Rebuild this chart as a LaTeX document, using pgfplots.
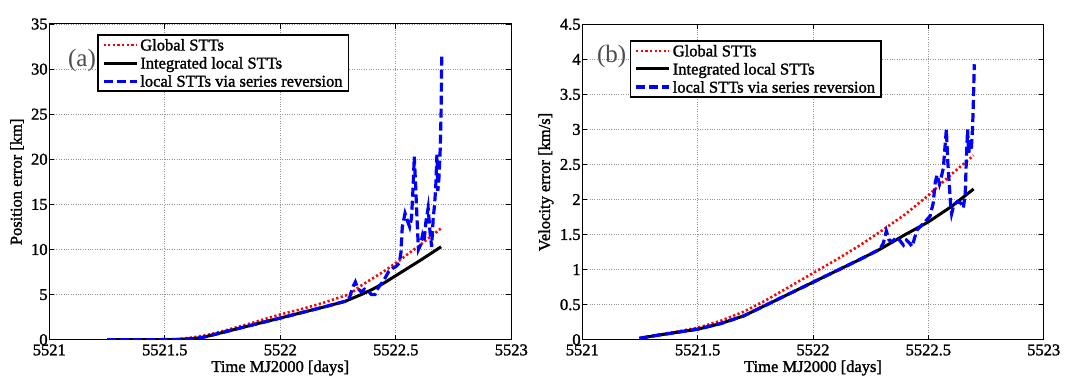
\documentclass[border=0pt]{standalone}
\usepackage{fontspec}
\setmainfont{Liberation Serif}[FakeBold=1.5]
\newfontfamily\thinfont{Liberation Serif}
\usepackage{pgfplots}
\pgfplotsset{compat=1.18}

\pgfplotsset{
  matstyle/.style={
    scale only axis,
    xmin=5521, xmax=5523,
    xtick={5521,5521.5,5522,5522.5,5523},
    xticklabels={5521,5521.5,5522,5522.5,5523},
    grid=major,
    major grid style={dotted, gray!85, line width=0.8pt},
    axis line style={line width=1pt},
    every tick/.style={black, line width=0.8pt},
    major tick length=5pt,
    tick align=inside,
    ticklabel style={font=\fontsize{16.5}{18}\selectfont, inner sep=1.5pt},
    xticklabel style={yshift=-3pt},
    label style={font=\fontsize{16.5}{18}\selectfont},
    legend cell align=left,
    legend image code/.code={\draw[#1] (0pt,0pt) -- (33pt,0pt);},
    legend style={
      draw=black, line width=1.5pt, fill=white,
      font=\fontsize{16.5}{18}\selectfont,
      inner xsep=4pt, inner ysep=1pt,
      row sep=0pt,
      nodes={inner xsep=2pt, inner ysep=2pt},
    },
  },
  globstt/.style={red, line width=2.6pt, dash pattern=on 2.2pt off 2.4pt},
  intstt/.style={black, line width=3pt},
  revstt/.style={blue, line width=3.2pt, dash pattern=on 9pt off 4pt},
}

\begin{document}
\begin{tikzpicture}
\path[use as bounding box] (0pt,0pt) rectangle (1075pt,388pt);

% ---------------- (a) ----------------
\begin{axis}[matstyle,
  at={(49.3pt,48.3pt)}, anchor=south west,
  width=462pt, height=315.7pt,
  ymin=0, ymax=35,
  ytick={0,5,10,15,20,25,30,35},
  yticklabels={0,5,10,15,20,25,30,35},
  xlabel={Time MJ2000 [days]},
  ylabel={Position error [km]},
  xlabel style={at={(axis description cs:0.5,-0.0897)}, anchor=center},
  ylabel style={at={(axis description cs:-0.0699,0.5)}, anchor=center},
  legend style={at={(axis description cs:0.104,0.968)}, anchor=north west},
]
\addplot[globstt] table {
5521.25 0
5521.55 0.05
5521.62 0.25
5521.68 0.5
5521.75 0.95
5521.85 1.65
5522.00 2.8
5522.10 3.45
5522.20 4.2
5522.30 5.05
5522.35 6.0
5522.40 6.8
5522.45 7.6
5522.50 8.5
5522.60 10.4
5522.696 12.35
};
\addlegendentry{\strut Global STTs}
\addplot[intstt] table {
5521.25 0
5521.40 0
5521.55 0.02
5521.60 0.08
5521.65 0.2
5521.68 0.35
5521.75 0.8
5521.85 1.45
5522.00 2.4
5522.10 3.05
5522.20 3.7
5522.28 4.25
5522.35 5.0
5522.40 5.6
5522.45 6.3
5522.50 7.1
5522.60 8.7
5522.696 10.3
};
\addlegendentry{\strut Integrated local STTs}
\addplot[revstt] table {
5521.25 0
5521.40 0
5521.55 0.02
5521.60 0.08
5521.65 0.2
5521.68 0.35
5521.75 0.8
5521.85 1.45
5522.00 2.4
5522.10 3.05
5522.20 3.7
5522.280 4.25
5522.300 4.7
5522.315 5.9
5522.325 6.4
5522.335 5.7
5522.350 5.3
5522.365 5.6
5522.380 5.4
5522.395 5.0
5522.410 5.0
5522.425 5.8
5522.440 6.3
5522.455 6.9
5522.470 7.6
5522.485 7.9
5522.500 8.1
5522.515 8.5
5522.522 9.6
5522.528 12.5
5522.540 14.0
5522.550 13.2
5522.560 12.5
5522.568 13.5
5522.575 17.0
5522.580 20.3
5522.586 17.0
5522.592 13.3
5522.598 10.0
5522.607 10.5
5522.615 11.5
5522.622 10.8
5522.630 13.0
5522.640 14.6
5522.648 12.0
5522.655 10.3
5522.662 13.5
5522.668 15.0
5522.673 17.0
5522.678 20.5
5522.682 16.5
5522.687 18.0
5522.692 21.0
5522.696 25.0
5522.699 31.7
};
\addlegendentry{\strut local STTs via series reversion}
\node[font=\thinfont\fontsize{25}{25}\selectfont, text=black!70, inner sep=0pt]
  at (axis description cs:0.0708,0.886) {(a)};
\end{axis}

% ---------------- (b) ----------------
\begin{axis}[matstyle,
  at={(582.3pt,48.3pt)}, anchor=south west,
  width=461.4pt, height=315.4pt,
  ymin=0, ymax=4.5,
  ytick={0,0.5,1,1.5,2,2.5,3,3.5,4,4.5},
  yticklabels={0,0.5,1,1.5,2,2.5,3,3.5,4,4.5},
  xlabel={Time MJ2000 [days]},
  ylabel={Velocity error [km/s]},
  xlabel style={at={(axis description cs:0.5,-0.0897)}, anchor=center},
  ylabel style={at={(axis description cs:-0.0787,0.5)}, anchor=center},
  legend style={at={(axis description cs:0.103,0.950)}, anchor=north west},
]
\addplot[globstt] table {
5521.248 0.02
5521.40 0.11
5521.50 0.17
5521.60 0.27
5521.70 0.40
5521.80 0.57
5521.90 0.76
5522.00 0.95
5522.10 1.14
5522.20 1.34
5522.30 1.56
5522.40 1.79
5522.50 2.06
5522.60 2.36
5522.696 2.63
};
\addlegendentry{\strut Global STTs}
\addplot[intstt] table {
5521.248 0.02
5521.30 0.05
5521.40 0.10
5521.50 0.15
5521.60 0.23
5521.70 0.34
5521.80 0.50
5521.90 0.66
5522.00 0.82
5522.10 0.98
5522.20 1.14
5522.29 1.29
5522.40 1.50
5522.50 1.68
5522.60 1.90
5522.696 2.15
};
\addlegendentry{\strut Integrated local STTs}
\addplot[revstt] table {
5521.248 0.02
5521.30 0.05
5521.40 0.10
5521.50 0.15
5521.60 0.23
5521.70 0.34
5521.80 0.50
5521.90 0.66
5522.00 0.82
5522.10 0.98
5522.20 1.14
5522.29 1.29
5522.305 1.38
5522.318 1.55
5522.330 1.42
5522.345 1.40
5522.360 1.46
5522.375 1.42
5522.392 1.35
5522.405 1.42
5522.418 1.38
5522.430 1.33
5522.440 1.45
5522.452 1.57
5522.470 1.63
5522.490 1.70
5522.507 1.76
5522.521 1.95
5522.530 2.25
5522.538 2.35
5522.548 2.22
5522.556 2.32
5522.565 2.45
5522.572 2.75
5522.578 3.00
5522.584 2.55
5522.590 2.25
5522.596 1.95
5522.601 1.80
5522.610 1.92
5522.625 1.97
5522.640 1.95
5522.652 1.88
5522.660 2.10
5522.665 2.60
5522.670 3.00
5522.675 2.65
5522.680 2.85
5522.686 2.70
5522.692 3.05
5522.696 3.50
5522.699 3.93
};
\addlegendentry{\strut local STTs via series reversion}
\node[font=\thinfont\fontsize{25}{25}\selectfont, text=black!70, inner sep=0pt]
  at (axis description cs:0.0635,0.897) {(b)};
\node[anchor=base west, inner sep=0pt, yshift=4.3pt,
  font=\fontsize{16.5}{18}\selectfont]
  at (axis description cs:0,1) {x 10\raisebox{8pt}{\fontsize{12}{12}\selectfont -4}};
\end{axis}
\end{tikzpicture}
\end{document}
